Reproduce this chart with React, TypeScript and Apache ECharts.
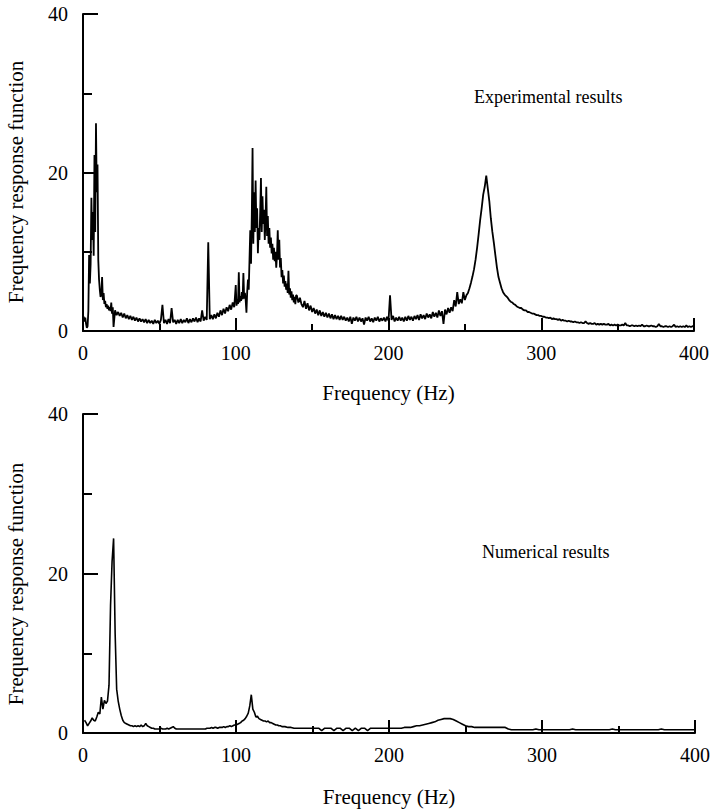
import React, { useEffect, useRef } from "react";
import * as echarts from "echarts";

// Experimental FRF: 0–19.5 Hz sampled every 0.5 Hz
const EXP_LOW_START = 0;
const EXP_LOW_STEP = 0.5;
const expLow = [
  1.4, 1.8, 1.2, 1.7, 0.9, 0.4, 0.6, 2.5, 9.6, 6.0,
  8.5, 16.8, 11.5, 15.0, 9.5, 22.2, 12.5, 26.2, 17.5, 21.0,
  9.0, 6.5, 5.2, 4.3, 4.6, 6.8, 3.9, 4.8, 3.4, 3.8,
  3.0, 3.4, 2.8, 3.2, 2.6, 3.0, 2.5, 3.6, 2.2, 3.0,
];

// Experimental FRF: 20–99 Hz sampled every 1 Hz
const EXP_MID_START = 20;
const EXP_MID_STEP = 1;
const expMid = [
  0.5, 2.6, 2.0, 2.4, 1.9, 2.3, 1.7, 2.2, 1.6, 2.0,
  1.5, 1.9, 1.4, 1.8, 1.3, 1.7, 1.2, 1.6, 1.2, 1.5,
  1.1, 1.5, 1.0, 1.4, 1.0, 1.3, 0.9, 1.4, 1.0, 1.3,
  0.9, 1.4, 3.3, 1.0, 1.4, 0.9, 1.5, 1.0, 2.9, 1.1,
  1.4, 0.9, 1.4, 1.0, 1.5, 1.0, 1.4, 1.1, 1.6, 1.0,
  1.5, 1.1, 1.6, 1.2, 1.7, 1.1, 1.6, 1.2, 2.6, 1.3,
  1.8, 1.4, 11.2, 1.5, 2.0, 1.5, 2.1, 1.6, 2.3, 1.8,
  2.6, 2.0, 2.8, 2.2, 3.0, 2.5, 3.3, 2.7, 3.6, 3.0,
];

// Experimental FRF: 100–139.5 Hz sampled every 0.5 Hz
const EXP_PEAK_START = 100;
const EXP_PEAK_STEP = 0.5;
const expPeak = [
  5.8, 3.2, 4.0, 3.4, 7.4, 3.6, 4.4, 3.8, 4.9, 4.0,
  7.3, 4.1, 4.8, 3.9, 2.3, 5.0, 6.5, 5.2, 9.0, 12.7,
  8.5, 14.5, 23.1, 11.0, 17.5, 12.5, 19.0, 13.0, 15.5, 9.8,
  13.0, 11.5, 15.0, 19.3, 12.5, 17.0, 13.5, 15.3, 11.5, 14.0,
  18.2, 12.0, 14.5, 11.0, 13.0, 10.5, 11.8, 9.8, 11.0, 9.0,
  10.5, 8.8, 10.0, 8.0, 9.5, 12.7, 9.0, 11.5, 8.0, 9.2,
  6.8, 7.7, 6.0, 7.0, 5.6, 6.3, 5.2, 6.0, 4.8, 7.6,
  4.6, 5.4, 4.2, 5.0, 3.9, 4.6, 3.6, 4.3, 3.4, 4.5,
];

// Experimental FRF: 140–400 Hz sampled every 1 Hz
const EXP_HIGH_START = 140;
const EXP_HIGH_STEP = 1;
const expHigh = [
  4.5, 3.6, 4.2, 3.4, 3.0, 3.8, 2.8, 3.5, 2.6, 3.2,
  2.4, 2.9, 2.2, 2.7, 2.0, 2.6, 1.9, 2.4, 1.8, 2.3,
  1.7, 2.2, 1.6, 2.1, 1.5, 2.0, 1.5, 1.9, 1.4, 1.9,
  1.4, 1.8, 1.3, 1.7, 1.2, 1.8, 0.9, 1.7, 1.3, 1.8,
  1.2, 1.7, 1.2, 1.6, 0.8, 1.7, 1.3, 1.8, 1.2, 1.6,
  1.1, 1.7, 1.3, 1.8, 1.2, 1.6, 1.3, 1.7, 1.2, 1.8,
  1.3, 4.5, 1.4, 1.9, 1.2, 1.7, 1.3, 1.8, 1.3, 1.7,
  1.2, 1.8, 1.3, 1.9, 1.4, 1.8, 1.3, 1.9, 1.5, 2.0,
  1.4, 2.1, 1.6, 2.0, 1.5, 2.2, 1.7, 2.1, 1.6, 2.4,
  1.8, 2.3, 1.7, 2.6, 1.9, 2.5, 0.9, 2.7, 2.1, 2.9,
  2.3, 3.0, 2.5, 3.9, 3.1, 4.9, 3.4, 4.0, 3.5, 4.9,
  3.9, 4.5, 4.8, 5.4, 6.1, 6.9, 7.8, 9.0, 10.5, 12.2,
  14.0, 15.5, 17.2, 18.2, 19.6, 18.0, 16.4, 14.2, 12.5, 11.1,
  9.5, 8.0, 6.8, 6.1, 5.4, 4.9, 4.6, 4.4, 4.2, 3.9,
  3.7, 3.6, 3.4, 3.3, 3.1, 3.0, 2.9, 2.9, 2.7, 2.6,
  2.6, 2.4, 2.4, 2.3, 2.2, 2.2, 2.1, 2.0, 2.0, 1.9,
  1.9, 1.8, 1.8, 1.7, 1.7, 1.6, 1.7, 1.5, 1.6, 1.5,
  1.5, 1.4, 1.5, 1.3, 1.4, 1.3, 1.3, 1.2, 1.3, 1.2,
  1.2, 1.1, 1.2, 1.1, 1.1, 1.0, 1.1, 1.0, 1.0, 1.2,
  1.0, 0.9, 1.0, 0.9, 0.9, 1.0, 0.8, 0.9, 0.8, 0.9,
  0.8, 0.9, 0.8, 0.8, 0.9, 0.7, 0.8, 0.7, 0.8, 0.7,
  0.8, 0.7, 0.7, 0.8, 0.7, 1.0, 0.7, 0.7, 0.6, 0.7,
  0.7, 0.6, 0.7, 0.6, 0.7, 0.6, 0.8, 0.6, 0.6, 0.7,
  0.6, 0.6, 0.7, 0.6, 0.6, 0.5, 0.6, 0.9, 0.6, 0.6,
  0.5, 0.6, 0.6, 0.5, 0.6, 0.5, 0.6, 0.8, 0.5, 0.6,
  0.5, 0.6, 0.5, 0.6, 0.5, 0.7, 0.5, 0.6, 0.5, 0.6,
  0.6,
];

// Numerical FRF: 1–130 Hz sampled every 1 Hz
const NUM_LOW_START = 1;
const NUM_LOW_STEP = 1;
const numLow = [
  1.6, 1.3, 0.9, 1.2, 1.5, 1.9, 1.6, 1.5, 2.0,
  2.6, 2.4, 4.5, 3.0, 4.1, 3.7, 4.0, 6.0, 16.0, 21.5,
  24.4, 12.5, 5.5, 4.0, 3.0, 2.2, 1.6, 1.3, 1.2, 1.1,
  1.0, 0.9, 0.9, 0.8, 0.9, 0.8, 0.9, 0.8, 1.0, 0.8,
  0.9, 1.2, 0.9, 0.8, 0.7, 0.6, 0.6, 0.5, 0.5, 0.5,
  0.5, 0.6, 0.5, 0.5, 0.5, 0.6, 0.5, 0.6, 0.7, 0.8,
  0.6, 0.5, 0.5, 0.5, 0.5, 0.5, 0.5, 0.5, 0.5, 0.5,
  0.5, 0.5, 0.5, 0.5, 0.5, 0.5, 0.5, 0.5, 0.5, 0.5,
  0.5, 0.6, 0.6, 0.6, 0.7, 0.6, 0.7, 0.7, 0.6, 0.7,
  0.7, 0.7, 0.8, 0.7, 0.8, 0.8, 0.9, 0.8, 0.9, 1.0,
  1.0, 1.1, 1.2, 1.3, 1.5, 1.6, 1.8, 2.1, 2.5, 3.4,
  4.8, 3.0, 2.6, 2.0, 2.1, 1.8, 1.7, 1.6, 1.5, 1.5,
  1.4, 1.5, 1.3, 1.3, 1.2, 1.1, 1.0, 1.0, 0.9, 0.9,
  0.8,
];

// Numerical FRF: 132–400 Hz sampled every 2 Hz
const NUM_HIGH_START = 132;
const NUM_HIGH_STEP = 2;
const numHigh = [
  0.8, 0.7, 0.7, 0.6, 0.6, 0.6, 0.6, 0.6, 0.6, 0.6,
  0.6, 0.6, 0.3, 0.6, 0.6, 0.6, 0.3, 0.6, 0.6, 0.3,
  0.6, 0.6, 0.3, 0.6, 0.3, 0.6, 0.6, 0.3, 0.6, 0.6,
  0.6, 0.6, 0.6, 0.6, 0.6, 0.6, 0.6, 0.6, 0.6, 0.7,
  0.7, 0.7, 0.8, 0.9, 0.9, 1.0, 1.1, 1.2, 1.3, 1.4,
  1.6, 1.7, 1.8, 1.8, 1.8, 1.7, 1.5, 1.3, 1.1, 0.9,
  0.8, 0.8, 0.7, 0.7, 0.7, 0.7, 0.7, 0.7, 0.7, 0.7,
  0.7, 0.7, 0.7, 0.5, 0.4, 0.4, 0.4, 0.4, 0.4, 0.4,
  0.4, 0.4, 0.5, 0.4, 0.4, 0.4, 0.4, 0.4, 0.4, 0.4,
  0.4, 0.4, 0.4, 0.4, 0.5, 0.4, 0.4, 0.4, 0.4, 0.4,
  0.4, 0.4, 0.4, 0.4, 0.4, 0.4, 0.4, 0.5, 0.4, 0.4,
  0.4, 0.4, 0.4, 0.4, 0.4, 0.4, 0.4, 0.4, 0.4, 0.4,
  0.4, 0.4, 0.4, 0.5, 0.4, 0.4, 0.4, 0.4, 0.4, 0.4,
  0.4, 0.4, 0.4, 0.4, 0.4,
];

const X_MIN = 0;
const X_MAX = 400;
const X_INTERVAL = 100;
const Y_MIN = 0;
const Y_MAX = 40;
const Y_INTERVAL = 20;

const X_TITLE = "Frequency (Hz)";
const Y_TITLE = "Frequency response function";
const TOP_NOTE = "Experimental results";
const BOTTOM_NOTE = "Numerical results";

const SERIF = "Liberation Serif, Times New Roman, serif";
const INK = "#000";

const sampled = (start: number, step: number, values: number[]) =>
  values.map((v, i) => [start + i * step, v]);

const experimental = [
  ...sampled(EXP_LOW_START, EXP_LOW_STEP, expLow),
  ...sampled(EXP_MID_START, EXP_MID_STEP, expMid),
  ...sampled(EXP_PEAK_START, EXP_PEAK_STEP, expPeak),
  ...sampled(EXP_HIGH_START, EXP_HIGH_STEP, expHigh),
];
const numerical = [
  ...sampled(NUM_LOW_START, NUM_LOW_STEP, numLow),
  ...sampled(NUM_HIGH_START, NUM_HIGH_STEP, numHigh),
];

function xAxisFor(gridIndex: number, nameGap: number) {
  return {
    type: "value",
    gridIndex,
    min: X_MIN,
    max: X_MAX,
    interval: X_INTERVAL,
    name: X_TITLE,
    nameLocation: "middle",
    nameGap,
    nameTextStyle: { color: INK, fontFamily: SERIF, fontSize: 21 },
    axisLine: { show: true, onZero: false, lineStyle: { color: INK, width: 2 } },
    axisTick: { show: true, inside: true, length: 13, lineStyle: { color: INK, width: 2 } },
    minorTick: { show: true, splitNumber: 2, length: 7, lineStyle: { color: INK, width: 2 } },
    splitLine: { show: false },
    minorSplitLine: { show: false },
    axisLabel: { color: INK, fontFamily: SERIF, fontSize: 20, margin: 12 },
  };
}

function yAxisFor(gridIndex: number) {
  return {
    type: "value",
    gridIndex,
    min: Y_MIN,
    max: Y_MAX,
    interval: Y_INTERVAL,
    axisLine: { show: true, onZero: false, lineStyle: { color: INK, width: 2 } },
    axisTick: { show: true, inside: true, length: 15, lineStyle: { color: INK, width: 2 } },
    minorTick: { show: true, splitNumber: 2, length: 9, lineStyle: { color: INK, width: 2 } },
    splitLine: { show: false },
    minorSplitLine: { show: false },
    axisLabel: { color: INK, fontFamily: SERIF, fontSize: 20, margin: 15 },
  };
}

function lineSeries(index: number, data: number[][], width: number) {
  return {
    type: "line",
    xAxisIndex: index,
    yAxisIndex: index,
    data,
    showSymbol: false,
    symbol: "none",
    silent: true,
    lineStyle: { color: INK, width },
  };
}

function titleText(x: number, y: number) {
  return {
    type: "text",
    x,
    y,
    rotation: Math.PI / 2,
    style: {
      text: Y_TITLE,
      fill: INK,
      font: `21px ${SERIF}`,
      textAlign: "center",
      textVerticalAlign: "middle",
    },
  };
}

function noteText(x: number, y: number, text: string) {
  return {
    type: "text",
    x,
    y,
    style: {
      text,
      fill: INK,
      font: `18px ${SERIF}`,
      textAlign: "left",
      textVerticalAlign: "middle",
    },
  };
}

export default function App() {
  const ref = useRef<HTMLDivElement>(null);

  useEffect(() => {
    if (!ref.current) return;
    const chart = echarts.init(ref.current, null, { renderer: "svg" });
    chart.setOption({
      animation: false,
      backgroundColor: "#fff",
      grid: [
        { left: 83, top: 14, width: 611, height: 317 },
        { left: 83, top: 414, width: 612, height: 319 },
      ],
      xAxis: [xAxisFor(0, 51), xAxisFor(1, 53)],
      yAxis: [yAxisFor(0), yAxisFor(1)],
      series: [lineSeries(0, experimental, 1.8), lineSeries(1, numerical, 1.6)],
      graphic: [
        titleText(16, 182),
        titleText(16, 584),
        noteText(474, 97, TOP_NOTE),
        noteText(482, 552, BOTTOM_NOTE),
      ],
    });
    return () => chart.dispose();
  }, []);

  return (
    <div
      ref={ref}
      style={{ position: "absolute", left: 0, top: 0, width: 714, height: 812 }}
    />
  );
}
